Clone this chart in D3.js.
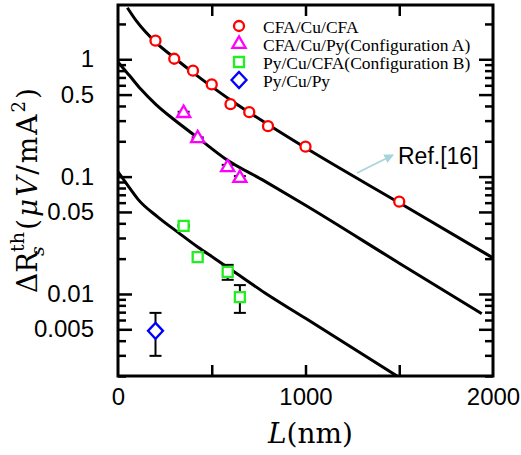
<!DOCTYPE html>
<html>
<head>
<meta charset="utf-8">
<script src="https://cdn.jsdelivr.net/npm/d3@7"></script>
<style>
  body { margin: 0; background: #fff; }
  svg { display: block; }
</style>
</head>
<body>
<script>
// Measured points
const L_CFA = [200, 300, 400, 500, 600, 700, 800, 1000, 1500];
const R_CFA = [1.44, 1.01, 0.80, 0.61, 0.414, 0.354, 0.269, 0.180, 0.0612];

const L_A = [350, 425, 585, 650];
const R_A = [0.347, 0.212, 0.120, 0.097];
const LO_A = [0.337, 0.208, 0.114, 0.093];
const HI_A = [0.357, 0.216, 0.126, 0.101];

const L_B = [350, 425, 585, 650];
const R_B = [0.038, 0.0206, 0.0154, 0.0094];
const LO_B = [0.0375, 0.0206, 0.0132, 0.0069];
const HI_B = [0.0385, 0.0206, 0.0177, 0.0119];

const L_Py = [200];
const R_Py = [0.00485];
const LO_Py = [0.00297];
const HI_Py = [0.0069];

// Fit curves
const FIT_TOP_L = [50, 100, 200, 300, 400, 500, 600, 700, 800, 1000, 1500, 2000];
const FIT_TOP_R = [2.75, 2.1, 1.4, 1.03, 0.77, 0.585, 0.45, 0.352, 0.278, 0.176, 0.0598, 0.0203];
const FIT_MID_L = [0, 30, 60, 120, 200, 300, 430, 570, 780, 1000, 1500, 1940];
const FIT_MID_R = [0.95, 0.83, 0.73, 0.56, 0.415, 0.305, 0.212, 0.143, 0.092, 0.057, 0.0183, 0.0068];
const FIT_BOT_L = [0, 50, 107, 213, 320, 427, 517, 608, 784, 1000, 1488];
const FIT_BOT_R = [0.110, 0.085, 0.064, 0.0452, 0.0335, 0.025, 0.020, 0.0159, 0.0102, 0.0062, 0.0020];

const X_TICKS = [0, 1000, 2000];
const X_TICKS_ALL = [500, 1000, 1500];
const Y_MAJOR = [1, 0.5, 0.1, 0.05, 0.01, 0.005];
const Y_LABELS = ["1", "0.5", "0.1", "0.05", "0.01", "0.005"];

const LEGEND = ["CFA/Cu/CFA", "CFA/Cu/Py(Configuration A)", "Py/Cu/CFA(Configuration B)", "Py/Cu/Py"];

const W = 521, H = 455;
const mLeft = 118, mRight = 493, mTop = 5, mBottom = 376;

const svg = d3.select("body").append("svg").attr("width", W).attr("height", H);

const x = d3.scaleLinear().domain([0, 2000]).range([mLeft, mRight]);
const y = d3.scaleLog().domain([0.002, 2.9]).range([mBottom, mTop]);

const defs = svg.append("defs");
defs.append("clipPath").attr("id", "plot")
  .append("rect").attr("x", mLeft).attr("y", mTop).attr("width", mRight - mLeft).attr("height", mBottom - mTop);

// minor y ticks: standard log subdivisions that are not majors
let yMinor = [];
[0.001, 0.01, 0.1, 1].forEach(d => {
  for (let k = 2; k <= 9; k++) {
    const v = +(d * k).toPrecision(3);
    if (v >= 0.002 && v <= 2.9 && k !== 5) yMinor.push(v);
  }
});

const tickStyle = g => {
  g.select(".domain").remove();
  g.selectAll(".tick line").attr("stroke", "#000").attr("stroke-width", 2.5);
};

// left / right axes
svg.append("g").attr("transform", `translate(${mLeft},0)`)
  .call(d3.axisLeft(y).tickValues(yMinor).tickSize(-8).tickFormat(""))
  .call(tickStyle);
svg.append("g").attr("transform", `translate(${mLeft},0)`)
  .call(d3.axisLeft(y).tickValues(Y_MAJOR).tickSize(-14).tickPadding(24)
    .tickFormat((d, i) => Y_LABELS[i]))
  .call(tickStyle)
  .call(g => g.selectAll("text").attr("font-family", "Liberation Sans, Arial, sans-serif")
    .attr("font-size", 24).attr("fill", "#000"));
svg.append("g").attr("transform", `translate(${mRight},0)`)
  .call(d3.axisRight(y).tickValues(yMinor).tickSize(-8).tickFormat(""))
  .call(tickStyle);
svg.append("g").attr("transform", `translate(${mRight},0)`)
  .call(d3.axisRight(y).tickValues(Y_MAJOR).tickSize(-14).tickFormat(""))
  .call(tickStyle);

// top / bottom axes
svg.append("g").attr("transform", `translate(0,${mBottom})`)
  .call(d3.axisBottom(x).tickValues(X_TICKS_ALL).tickSize(-11).tickFormat(""))
  .call(tickStyle);
svg.append("g").attr("transform", `translate(0,${mTop})`)
  .call(d3.axisTop(x).tickValues(X_TICKS_ALL).tickSize(-11).tickFormat(""))
  .call(tickStyle);
svg.append("g").attr("transform", `translate(0,${mBottom})`)
  .call(d3.axisBottom(x).tickValues(X_TICKS).tickSize(0).tickPadding(12).tickFormat(d3.format("d")))
  .call(tickStyle)
  .call(g => g.selectAll("text").attr("font-family", "Liberation Sans, Arial, sans-serif")
    .attr("font-size", 24).attr("fill", "#000"));

// fit lines
const line = d3.line().x(d => x(d[0])).y(d => y(d[1])).curve(d3.curveMonotoneX);
const fits = [[FIT_TOP_L, FIT_TOP_R], [FIT_MID_L, FIT_MID_R], [FIT_BOT_L, FIT_BOT_R]];
svg.append("g").attr("clip-path", "url(#plot)")
  .selectAll("path").data(fits).join("path")
  .attr("d", f => line(f[0].map((l, i) => [l, f[1][i]])))
  .attr("fill", "none").attr("stroke", "#000").attr("stroke-width", 3);

// error bars
function errorBars(Ls, lo, hi) {
  const g = svg.append("g").attr("stroke", "#000").attr("stroke-width", 2);
  Ls.forEach((l, i) => {
    if (lo[i] === hi[i]) return;
    g.append("line").attr("x1", x(l)).attr("x2", x(l)).attr("y1", y(lo[i])).attr("y2", y(hi[i]));
    g.append("line").attr("x1", x(l) - 6).attr("x2", x(l) + 6).attr("y1", y(lo[i])).attr("y2", y(lo[i]));
    g.append("line").attr("x1", x(l) - 6).attr("x2", x(l) + 6).attr("y1", y(hi[i])).attr("y2", y(hi[i]));
  });
}
errorBars(L_A, LO_A, HI_A);
errorBars(L_B, LO_B, HI_B);
errorBars(L_Py, LO_Py, HI_Py);

// markers
const shapes = [
  { path: d3.symbol().type(d3.symbolCircle).size(Math.PI * 25)(), color: "#ff0000" },
  { path: d3.symbol().type(d3.symbolTriangle).size(75)(), color: "#ff00ff" },
  { path: d3.symbol().type(d3.symbolSquare).size(100)(), color: "#22ee22" },
  { path: "M0,-8L7.5,0L0,8L-7.5,0Z", color: "#0000ff" }
];
const series = [[L_CFA, R_CFA], [L_A, R_A], [L_B, R_B], [L_Py, R_Py]];
series.forEach((s, k) => {
  svg.append("g").selectAll("path").data(s[0]).join("path")
    .attr("d", shapes[k].path)
    .attr("transform", (l, i) => `translate(${x(l)},${y(s[1][i])})`)
    .attr("fill", "#fff").attr("stroke", shapes[k].color).attr("stroke-width", 2.3);
});

// frame
svg.append("rect").attr("x", mLeft).attr("y", mTop).attr("width", mRight - mLeft).attr("height", mBottom - mTop)
  .attr("fill", "none").attr("stroke", "#000").attr("stroke-width", 3);

// legend
const legend = svg.append("g");
LEGEND.forEach((name, i) => {
  const by = 33 + i * 18;
  legend.append("path").attr("d", shapes[i].path)
    .attr("transform", `translate(239,${by - 7})`)
    .attr("fill", "#fff").attr("stroke", shapes[i].color).attr("stroke-width", 2.3);
  legend.append("text").attr("x", 263).attr("y", by).text(name)
    .attr("font-family", "Liberation Serif, Times New Roman, serif").attr("font-size", 17.5).attr("fill", "#000");
});

// Ref annotation
defs.append("marker").attr("id", "arr").attr("viewBox", "0 0 10 10")
  .attr("refX", 9).attr("refY", 5).attr("markerWidth", 6).attr("markerHeight", 6).attr("orient", "auto")
  .append("path").attr("d", "M0,0L10,5L0,10Z").attr("fill", "#a6d6da");
svg.append("line").attr("x1", 357).attr("y1", 173).attr("x2", 393).attr("y2", 155)
  .attr("stroke", "#a6d6da").attr("stroke-width", 1.6).attr("marker-end", "url(#arr)");
svg.append("text").attr("x", 398).attr("y", 164).text("Ref.[16]")
  .attr("font-family", "Liberation Sans, Arial, sans-serif").attr("font-size", 23).attr("fill", "#000");

// x title
const xt = svg.append("text").attr("x", 268).attr("y", 443)
  .attr("font-family", "DejaVu Serif, serif").attr("font-size", 28).attr("fill", "#000");
xt.append("tspan").attr("font-style", "italic").text("L");
xt.append("tspan").text("(nm)");

// y title (rotated)
const yt = svg.append("g").attr("transform", "translate(37,190) rotate(-90)")
  .attr("font-family", "DejaVu Serif, serif").attr("fill", "#000");
yt.append("text").attr("x", -103).attr("y", 0).attr("font-size", 28).text("ΔR");
yt.append("text").attr("x", -62).attr("y", -13).attr("font-size", 19).text("th");
yt.append("text").attr("x", -66).attr("y", 7).attr("font-size", 19).attr("font-style", "italic").text("s");
const unit = yt.append("text").attr("x", -40).attr("y", 0).attr("font-size", 28)
  .attr("textLength", 142).attr("lengthAdjust", "spacing");
unit.append("tspan").text("(");
unit.append("tspan").attr("font-style", "italic").text("μV");
unit.append("tspan").text("/mA");
unit.append("tspan").attr("font-size", 18).attr("dy", -12).text("2");
unit.append("tspan").attr("dy", 12).text(")");
</script>
</body>
</html>
